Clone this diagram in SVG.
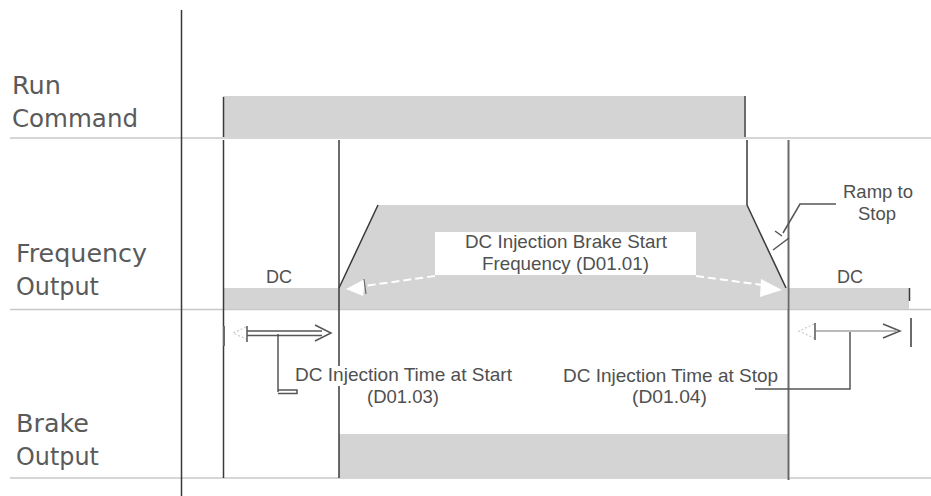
<svg xmlns="http://www.w3.org/2000/svg" width="931" height="496" viewBox="0 0 931 496">
<style>
.bg{fill:#ffffff}
.fill{fill:#d4d4d4}
.sep{stroke:#c8c8c8;stroke-width:1.6;fill:none}
.ln{stroke:#3a3a3a;stroke-width:1.5;fill:none}
.ln2{stroke:#6a6a6a;stroke-width:2;fill:none}
.lbl{font-family:"DejaVu Sans",sans-serif;font-size:24px;fill:#5a5a5a}
.sm{font-family:"Liberation Sans",Arial,sans-serif;font-size:19px;fill:#505050}
.wd{stroke:#ffffff;stroke-width:2;stroke-dasharray:8 4;fill:none}
.lead{stroke:#555555;stroke-width:1.5;fill:none}
</style>
<rect class="bg" x="0" y="0" width="931" height="496"/>

<g id="separators">
<line class="sep" x1="10" y1="138" x2="931" y2="138"/>
<line class="sep" x1="10" y1="309.5" x2="931" y2="309.5"/>
<line class="sep" x1="10" y1="478" x2="931" y2="478"/>
<line class="ln" x1="181.5" y1="10" x2="181.5" y2="496"/>
</g>

<g id="labels">
<text class="lbl" x="12" y="94" textLength="49" lengthAdjust="spacingAndGlyphs">Run</text>
<text class="lbl" x="12" y="127" textLength="126" lengthAdjust="spacingAndGlyphs">Command</text>
<text class="lbl" x="16" y="262" textLength="131" lengthAdjust="spacingAndGlyphs">Frequency</text>
<text class="lbl" x="16" y="295" textLength="83" lengthAdjust="spacingAndGlyphs">Output</text>
<text class="lbl" x="16" y="432" textLength="73" lengthAdjust="spacingAndGlyphs">Brake</text>
<text class="lbl" x="16" y="465" textLength="83" lengthAdjust="spacingAndGlyphs">Output</text>
</g>

<g id="run-command">
<rect class="fill" x="223" y="96" width="522" height="41"/>
<line class="ln" x1="223.5" y1="97" x2="223.5" y2="137"/>
<line class="ln2" x1="745" y1="96" x2="745" y2="137"/>
</g>

<g id="frequency-output">
<rect class="fill" x="223" y="288" width="116" height="21"/>
<polygon class="fill" points="339,309 339,288 378,205 747,205 787,288 787,309"/>
<rect class="fill" x="789" y="288" width="120" height="21"/>
<line class="ln" x1="339" y1="288" x2="378" y2="205"/>
<line class="ln" x1="747" y1="205" x2="786" y2="288"/>
<line class="ln" x1="909.5" y1="288" x2="909.5" y2="301"/>
<text class="sm" x="266" y="283" textLength="26" lengthAdjust="spacingAndGlyphs">DC</text>
<text class="sm" x="837" y="283" textLength="26" lengthAdjust="spacingAndGlyphs">DC</text>
</g>

<g id="brake-output">
<rect class="fill" x="339" y="434" width="450" height="44"/>
</g>

<g id="timing-lines">
<line class="ln" x1="223.5" y1="140" x2="223.5" y2="478"/>
<line class="ln" x1="339" y1="140" x2="339" y2="478"/>
<line class="ln2" x1="747" y1="140" x2="747" y2="205"/>
<line class="ln2" x1="788.5" y1="140" x2="788.5" y2="480"/>
<line class="ln2" x1="224" y1="326" x2="224" y2="346"/>
</g>

<g id="dc-brake-start-label">
<rect x="435" y="232" width="261" height="43" fill="#ffffff"/>
<text class="sm" x="465" y="248" textLength="202" lengthAdjust="spacingAndGlyphs">DC Injection Brake Start</text>
<text class="sm" x="482" y="270" textLength="167" lengthAdjust="spacingAndGlyphs">Frequency (D01.01)</text>
</g>

<g id="ramp-to-stop-label">
<text class="sm" x="843" y="198" textLength="70" lengthAdjust="spacingAndGlyphs">Ramp to</text>
<text class="sm" x="858" y="220" textLength="38" lengthAdjust="spacingAndGlyphs">Stop</text>
</g>

<g id="time-at-start-label">
<rect x="296" y="366" width="216" height="20" fill="#ffffff"/>
<text class="sm" x="295" y="381" textLength="217" lengthAdjust="spacingAndGlyphs">DC Injection Time at Start</text>
<text class="sm" x="367" y="403" textLength="72" lengthAdjust="spacingAndGlyphs">(D01.03)</text>
</g>

<g id="time-at-stop-label">
<text class="sm" x="563" y="382" textLength="215" lengthAdjust="spacingAndGlyphs">DC Injection Time at Stop</text>
<text class="sm" x="632" y="403" textLength="75" lengthAdjust="spacingAndGlyphs">(D01.04)</text>
</g>

<g id="connectors">
<line class="wd" x1="435" y1="276" x2="364" y2="286"/>
<polygon points="346,289 365,279 363,296" fill="#ffffff"/>
<line x1="364" y1="279" x2="366" y2="294" stroke="#6a6a6a" stroke-width="1.2"/>
<line class="wd" x1="696" y1="276" x2="762" y2="285"/>
<polygon points="782,290 761,279 760,297" fill="#ffffff"/>
<polyline class="lead" points="836,204 800,204 783,233"/>
<line class="lead" x1="775" y1="231" x2="782" y2="236"/>
<line class="lead" x1="773" y1="250" x2="789" y2="238"/>
<polyline points="246,327 233,333 246,339" fill="none" stroke="#c8c8c8" stroke-width="1.2" stroke-dasharray="2 2"/>
<line class="lead" x1="247" y1="326" x2="247" y2="342"/>
<line class="lead" x1="247" y1="331" x2="322" y2="331"/>
<line class="lead" x1="247" y1="335.5" x2="322" y2="335.5"/>
<polyline class="lead" points="315,325 331,333 315,341"/>
<line class="lead" x1="278" y1="334" x2="278" y2="392"/>
<polyline class="lead" points="278,390 297,390 297,393.5 278,393.5"/>
<polyline points="814,324 799,331 814,338" fill="none" stroke="#c8c8c8" stroke-width="1.2" stroke-dasharray="2 2"/>
<line class="lead" x1="815" y1="323" x2="815" y2="340"/>
<line x1="815" y1="331" x2="896" y2="331" stroke="#777777" stroke-width="1.2"/>
<polyline class="lead" points="883,324 900,331 883,338"/>
<line class="ln2" x1="911" y1="318" x2="911" y2="347"/>
<polyline class="lead" points="850,332 850,389 755,389"/>
</g>
</svg>
